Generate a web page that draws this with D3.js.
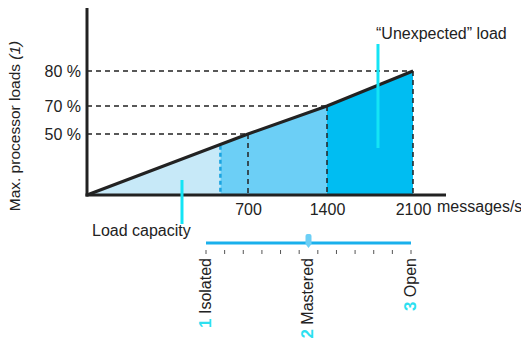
<!DOCTYPE html>
<html>
<head>
<meta charset="utf-8">
<script src="https://cdn.jsdelivr.net/npm/d3@7"></script>
<style>
  body { margin: 0; background: #fff; }
  text { font-family: "Liberation Sans", Arial, sans-serif; fill: #222; }
</style>
</head>
<body>
<div id="chart"></div>
<script>
// message rates (x) and processor load levels (y)
var rateTicks = [700, 1400, 2100];
var loadTicks = [50, 70, 80];
var lineRates = [0, 700, 1400, 2100];
var lineLoads = [0, 50, 70, 80];
// shaded zones: load capacity / mastered / unexpected
var zoneStart = [0, 580, 1400];
var zoneEnd = [580, 1400, 2100];
var zoneStartLoad = [0, 42, 70];
var zoneEndLoad = [42, 70, 80];
// modes on the slider below
var modeNames = ["Isolated", "Mastered", "Open"];
var modeNums = ["1", "2", "3"];
var modePos = [0, 5.5, 11];
var sliderTicks = d3.range(0, 12);
var currentMode = 5.5;

var width = 521, height = 338;
var fontSize = "16px";
var svg = d3.select("#chart").append("svg")
  .attr("width", width)
  .attr("height", height);

// the picture is drawn schematically, so scales are piecewise
var x = d3.scaleLinear().domain([0, 700, 1400, 2100]).range([87, 248, 327, 413]);
var y = d3.scaleLinear().domain([0, 50, 70, 80]).range([195, 134, 106, 71]);
var s = d3.scaleLinear().domain([0, 11]).range([206, 411]);

var zoneColors = ["#c7e9f8", "#6ccff6", "#00bdf2"];

var zones = zoneStart.map(function(d, i) {
  return { x0: d, x1: zoneEnd[i], y0: zoneStartLoad[i], y1: zoneEndLoad[i] };
});

svg.selectAll("path.zone")
  .data(zones)
  .enter()
  .append("path")
  .attr("class", "zone")
  .attr("fill", function(d, i) { return zoneColors[i]; })
  .attr("d", function(d) {
    return "M" + x(d.x0) + "," + y(0) +
      "L" + x(d.x0) + "," + y(d.y0) +
      "L" + x(d.x1) + "," + y(d.y1) +
      "L" + x(d.x1) + "," + y(0) + "Z";
  });

// blue dashed edge of load capacity zone
svg.append("line")
  .attr("x1", x(zoneEnd[0])).attr("x2", x(zoneEnd[0]))
  .attr("y1", y(zoneEndLoad[0]) + 2).attr("y2", y(0))
  .attr("stroke", "#1aa3e0")
  .attr("stroke-width", 2.5)
  .attr("stroke-dasharray", "4,3");

// dashed guides
rateTicks.forEach(function(r, i) {
  var l = lineLoads[lineRates.indexOf(r)];
  svg.append("line")
    .attr("x1", x(r)).attr("x2", x(r))
    .attr("y1", y(l)).attr("y2", y(0))
    .attr("stroke", "#222")
    .attr("stroke-width", 1.5)
    .attr("stroke-dasharray", "5,4");
  svg.append("line")
    .attr("x1", x(0)).attr("x2", x(r))
    .attr("y1", y(l)).attr("y2", y(l))
    .attr("stroke", "#222")
    .attr("stroke-width", 1.5)
    .attr("stroke-dasharray", "5,4");
});

// load line
var line = d3.line()
  .x(function(d, i) { return x(lineRates[i]); })
  .y(function(d) { return y(d); });
svg.append("path")
  .datum(lineLoads)
  .attr("fill", "none")
  .attr("stroke", "#222")
  .attr("stroke-width", 3)
  .attr("d", line);

// axes lines
svg.append("line")
  .attr("x1", x(0)).attr("x2", x(0))
  .attr("y1", 8).attr("y2", y(0) + 1.5)
  .attr("stroke", "#222").attr("stroke-width", 3);
svg.append("line")
  .attr("x1", x(0) - 1.5).attr("x2", 446)
  .attr("y1", y(0)).attr("y2", y(0))
  .attr("stroke", "#222").attr("stroke-width", 3);

var yAxis = svg.append("g")
  .attr("transform", "translate(" + x(0) + ",0)")
  .call(d3.axisLeft(y).tickValues(loadTicks).tickSize(0).tickPadding(6)
    .tickFormat(function(d) { return d + " %"; }));
yAxis.select(".domain").remove();
yAxis.selectAll("text")
  .style("font-family", "'Liberation Sans', Arial, sans-serif")
  .style("font-size", fontSize)
  .attr("fill", "#222");

var xAxis = svg.append("g")
  .attr("transform", "translate(0," + y(0) + ")")
  .call(d3.axisBottom(x).tickValues(rateTicks).tickSize(0).tickPadding(9)
    .tickFormat(d3.format("d")));
xAxis.select(".domain").remove();
xAxis.selectAll("text")
  .style("font-family", "'Liberation Sans', Arial, sans-serif")
  .style("font-size", fontSize)
  .attr("fill", "#222");

svg.append("text")
  .attr("x", 437).attr("y", 212)
  .style("font-size", fontSize)
  .text("messages/s");

// y title
svg.append("text")
  .attr("transform", "translate(20,126) rotate(-90)")
  .attr("text-anchor", "middle")
  .style("font-size", "15.5px")
  .text("Max. processor loads ")
  .append("tspan")
  .style("font-style", "italic")
  .text("(1)");

// callouts
var calloutColor = "#14e4f5";
svg.append("line")
  .attr("x1", x(413)).attr("x2", x(413))
  .attr("y1", 180).attr("y2", 224)
  .attr("stroke", calloutColor).attr("stroke-width", 3);
svg.append("text")
  .attr("x", 92).attr("y", 236)
  .style("font-size", fontSize)
  .text("Load capacity");

svg.append("line")
  .attr("x1", x(1815)).attr("x2", x(1815))
  .attr("y1", 44).attr("y2", 148)
  .attr("stroke", calloutColor).attr("stroke-width", 3);
svg.append("text")
  .attr("x", 376).attr("y", 39)
  .style("font-size", fontSize)
  .text("\u201cUnexpected\u201d load");

// mode slider
svg.append("line")
  .attr("x1", s(0)).attr("x2", s(11))
  .attr("y1", 243).attr("y2", 243)
  .attr("stroke", "#1ab0ec").attr("stroke-width", 3);

svg.selectAll("line.stick")
  .data(sliderTicks)
  .enter()
  .append("line")
  .attr("class", "stick")
  .attr("x1", function(d) { return s(d); })
  .attr("x2", function(d) { return s(d); })
  .attr("y1", 250).attr("y2", 254)
  .attr("stroke", "#555").attr("stroke-width", 1);

var mx = s(currentMode);
svg.append("path")
  .attr("d", "M" + (mx - 3) + ",236 Q" + (mx - 3) + ",234 " + (mx - 1) + ",234 L" + (mx + 1) + ",234 Q" +
    (mx + 3) + ",234 " + (mx + 3) + ",236 L" + (mx + 3) + ",244 L" + mx + ",248 L" + (mx - 3) + ",244 Z")
  .attr("fill", "#6ccff6");

var modes = svg.selectAll("text.mode")
  .data(modeNames)
  .enter()
  .append("text")
  .attr("class", "mode")
  .attr("transform", function(d, i) {
    return "translate(" + (s(modePos[i]) - 1) + ",258) rotate(-90)";
  })
  .attr("text-anchor", "end")
  .attr("dy", "0.35em")
  .style("font-size", fontSize);
modes.append("tspan")
  .style("font-weight", "bold")
  .style("font-size", "17px")
  .attr("fill", "#2de0f0")
  .text(function(d, i) { return modeNums[i]; });
modes.append("tspan")
  .text(function(d) { return " " + d; });
</script>
</body>
</html>
